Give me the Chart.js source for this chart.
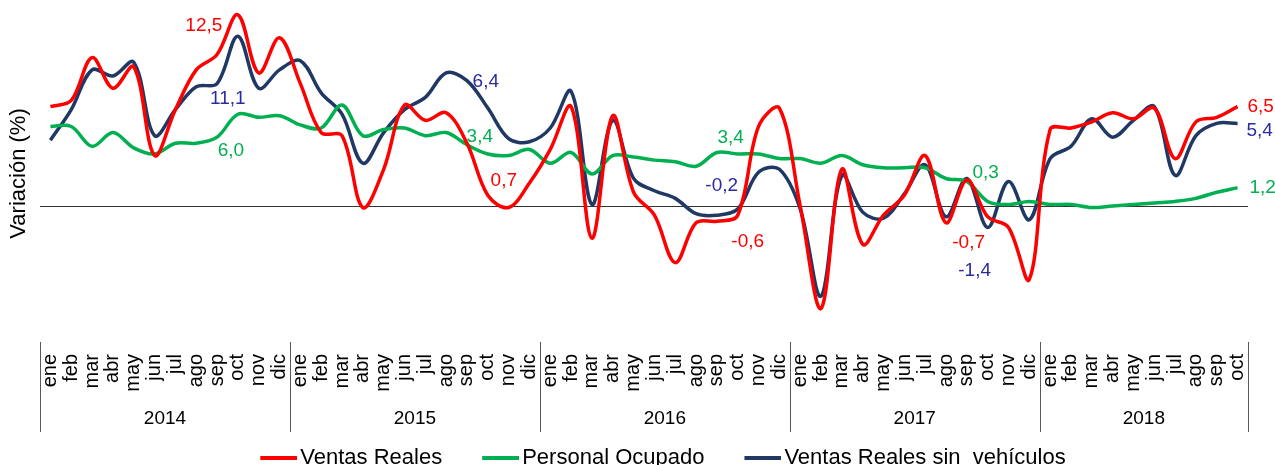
<!DOCTYPE html>
<html>
<head>
<meta charset="utf-8">
<script src="https://cdn.jsdelivr.net/npm/chart.js@4/dist/chart.umd.min.js"></script>
<style>
html,body{margin:0;padding:0;background:#fff;}
#wrap{width:1275px;height:465px;position:relative;}
</style>
</head>
<body>
<div id="wrap"><canvas id="c"></canvas></div>
<script>
// ---- data ----
const monthNames = ["ene","feb","mar","abr","may","jun","jul","ago","sep","oct","nov","dic"];
const years = ["2014","2015","2016","2017","2018"];
const monthsPerYear = [12,12,12,12,10];
const categories = [];
years.forEach((y, k) => { for (let m = 0; m < monthsPerYear[k]; m++) categories.push(monthNames[m]); });

const ventasReales = [
  6.5, 6.9, 9.7, 7.7, 9.1, 3.3, 6.3, 8.9, 9.9, 12.5, 8.7, 11.0,
  8.0, 4.8, 4.6, -0.1, 2.4, 6.6, 5.6, 6.1, 4.1, 0.7, -0.1, 1.5,
  3.7, 6.5, -2.1, 5.9, 0.9, -0.6, -3.7, -1.1, -1.0, -0.6, 5.2, 6.4,
  0.0, -6.7, 2.4, -2.5, -0.6, 0.7, 3.3, -1.1, 1.7, -0.7, -1.4, -4.8,
  5.0, 5.1, 5.5, 6.1, 5.7, 6.4, 3.1, 5.5, 5.8, 6.5
];
const personalOcupado = [
  5.2, 5.2, 3.9, 4.8, 3.8, 3.4, 4.1, 4.1, 4.5, 6.0, 5.8, 5.9,
  5.3, 5.1, 6.6, 4.6, 5.0, 5.1, 4.6, 4.8, 4.0, 3.4, 3.3, 3.7,
  2.8, 3.5, 2.1, 3.3, 3.2, 3.0, 2.9, 2.6, 3.5, 3.4, 3.4, 3.1,
  3.1, 2.8, 3.3, 2.7, 2.5, 2.5, 2.5, 1.8, 1.6, 0.3, 0.1, 0.3,
  0.1, 0.1, -0.1, 0.0, 0.1, 0.2, 0.3, 0.5, 0.9, 1.2
];
const ventasSinVehiculos = [
  4.3, 6.3, 8.9, 8.5, 9.4, 4.6, 6.3, 7.8, 8.0, 11.1, 7.7, 8.9,
  9.5, 7.4, 6.0, 2.8, 4.8, 6.3, 7.1, 8.7, 8.2, 6.4, 4.4, 4.2,
  5.1, 7.5, 0.1, 5.6, 1.8, 1.0, 0.5, -0.5, -0.6, -0.2, 2.2, 2.4,
  -0.2, -5.9, 2.0, -0.4, -0.8, 0.8, 2.7, -0.7, 1.8, -1.4, 1.6, -0.9,
  3.1, 3.9, 5.7, 4.5, 5.6, 6.5, 2.0, 4.6, 5.4, 5.4
];
const labelledIndices = [9, 21, 33, 45, 57]; // octubre de cada año

// ---- styling ----
const FONT = "'Liberation Sans', Arial, sans-serif";
Chart.defaults.font.family = FONT;
Chart.defaults.color = '#000';

// label offsets (dx, dy) relative to the point, per dataset
const labelOffsets = [
  [[-34, 11], [16, -15], [10, 27], [-19, 26], [23, 0]],
  [[-7, 37], [-8, -17], [-7, -16], [-2, -29], [25, 0]],
  [[-10, 63], [-2, -26], [-16, -23], [-13, 43], [22, 7]]
];
const labelColors = ['#FF0000', '#00B050', '#2B2B9E'];

// legend marker: a short thick line placed close to its text
const LEG_BOX = 67;          // legend box width
const LEG_IMG_W = 83;        // marker image width (centered on box)
const LEG_LINE = 37;         // visible line length
function legendMarker(color) {
  const cv = document.createElement('canvas');
  cv.width = LEG_IMG_W; cv.height = 6;
  const c = cv.getContext('2d');
  c.fillStyle = color;
  c.fillRect(LEG_IMG_W - LEG_LINE, 1, LEG_LINE, 4);
  return cv;
}

const valueLabels = {
  id: 'valueLabels',
  afterDatasetsDraw(chart) {
    const ctx = chart.ctx;
    ctx.save();
    ctx.font = "19px " + FONT;
    ctx.textAlign = 'center';
    ctx.textBaseline = 'middle';
    chart.data.datasets.forEach((ds, d) => {
      const meta = chart.getDatasetMeta(d);
      labelledIndices.forEach((idx, k) => {
        const pt = meta.data[idx];
        if (!pt) return;
        const v = ds.data[idx];
        const txt = v.toFixed(1).replace('.', ',');
        const off = labelOffsets[d][k];
        ctx.fillStyle = labelColors[d];
        ctx.fillText(txt, pt.x + off[0], pt.y + off[1]);
      });
    });
    ctx.restore();
  }
};

const yearAxis = {
  id: 'yearAxis',
  afterDraw(chart) {
    const xs = chart.scales.x;
    const ctx = chart.ctx;
    const top = chart.chartArea.bottom;
    ctx.save();
    ctx.font = "19px " + FONT;
    ctx.fillStyle = '#000';
    ctx.textAlign = 'center';
    ctx.textBaseline = 'middle';
    ctx.strokeStyle = '#595959';
    ctx.lineWidth = 1;
    let start = 0;
    const edges = [];
    monthsPerYear.forEach((n, k) => {
      const x0 = xs.getPixelForValue(start - 0.5);
      const x1 = xs.getPixelForValue(start + n - 0.5);
      edges.push(x0);
      if (k === monthsPerYear.length - 1) edges.push(x1);
      ctx.fillText(years[k], (x0 + x1) / 2, top + 77);
      start += n;
    });
    edges.forEach(px => {
      const xx = Math.round(px) + 0.5;
      ctx.beginPath();
      ctx.moveTo(xx, top);
      ctx.lineTo(xx, top + 90);
      ctx.stroke();
    });
    ctx.restore();
  }
};

const mk = (label, data, color) => ({
  label, data,
  borderColor: color, backgroundColor: color,
  borderWidth: 3.5, pointRadius: 0, pointHoverRadius: 0,
  tension: 0.35, fill: false, pointStyle: legendMarker(color)
});

new Chart(document.getElementById('c'), {
  type: 'line',
  data: {
    labels: categories,
    datasets: [
      mk('Ventas Reales', ventasReales, '#FF0000'),
      mk('Personal Ocupado', personalOcupado, '#00B050'),
      mk('Ventas Reales sin  vehículos', ventasSinVehiculos, '#203864')
    ]
  },
  options: {
    responsive: true,
    maintainAspectRatio: false,
    animation: false,
    events: [],
    layout: { padding: { top: 5, right: -13, left: 0, bottom: -14 } },
    plugins: {
      legend: {
        position: 'bottom',
        labels: {
          usePointStyle: true,
          pointStyleWidth: LEG_BOX,
          font: { size: 22 },
          color: '#000',
          padding: 2
        }
      },
      tooltip: { enabled: false }
    },
    scales: {
      x: {
        offset: true,
        grid: { display: false, drawTicks: false },
        border: { display: false },
        ticks: {
          autoSkip: false, maxRotation: 90, minRotation: 90,
          font: { size: 20 }, color: '#000', padding: 12
        },
        afterFit(scale) { scale.height = 103; }
      },
      y: {
        min: -8.89, max: 13.14,
        ticks: { display: false, stepSize: 1 },
        border: { display: false },
        grid: {
          drawTicks: false,
          color: c => (c.tick && c.tick.value === 0) ? '#333' : 'rgba(0,0,0,0)',
          lineWidth: 1
        },
        title: {
          display: true, text: 'Variación (%)',
          font: { size: 22 }, color: '#000',
          padding: { top: 6, bottom: 0 }
        },
        afterFit(scale) { scale.width = 40; }
      },
      yRight: {
        position: 'right',
        min: 0, max: 1,
        ticks: { display: false },
        grid: { display: false, drawTicks: false },
        border: { display: false },
        afterFit(scale) { scale.width = 40; }
      }
    }
  },
  plugins: [valueLabels, yearAxis]
});
</script>
</body>
</html>
